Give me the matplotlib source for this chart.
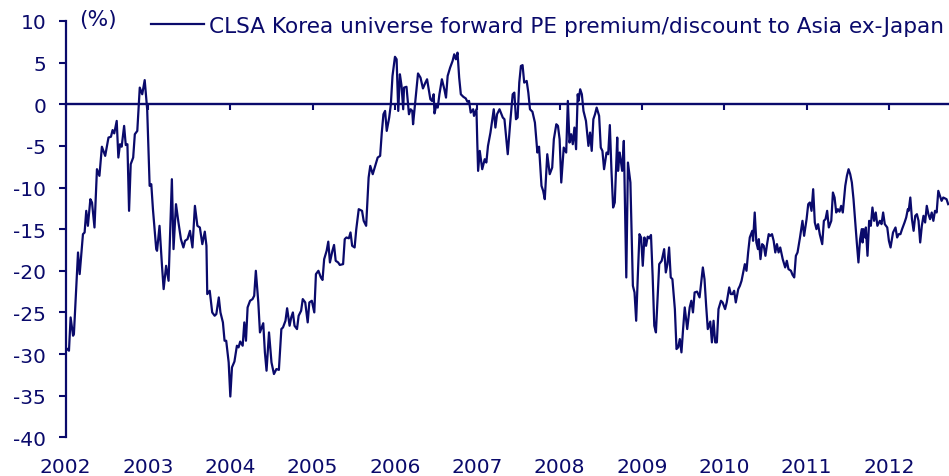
import matplotlib
matplotlib.use("Agg")
import matplotlib.pyplot as plt

# weekly-ish trace of the series (decimal year, % premium/discount)
years = [
    2002.02, 2002.04, 2002.06, 2002.09, 2002.10, 2002.13, 2002.15, 2002.17, 2002.21, 2002.23,
    2002.25, 2002.27, 2002.30, 2002.32, 2002.35, 2002.38, 2002.41, 2002.44, 2002.48, 2002.52,
    2002.55, 2002.57, 2002.59, 2002.62, 2002.64, 2002.66, 2002.68, 2002.71, 2002.73, 2002.75,
    2002.77, 2002.79, 2002.82, 2002.84, 2002.87, 2002.90, 2002.93, 2002.96, 2002.99, 2003.02,
    2003.04, 2003.06, 2003.10, 2003.11, 2003.14, 2003.17, 2003.19, 2003.22, 2003.25, 2003.29,
    2003.31, 2003.34, 2003.37, 2003.40, 2003.43, 2003.45, 2003.48, 2003.51, 2003.54, 2003.57,
    2003.60, 2003.63, 2003.66, 2003.69, 2003.71, 2003.72, 2003.75, 2003.78, 2003.81, 2003.83,
    2003.86, 2003.88, 2003.91, 2003.93, 2003.95, 2003.98, 2004.00, 2004.02, 2004.05, 2004.08,
    2004.10, 2004.12, 2004.15, 2004.17, 2004.19, 2004.21, 2004.24, 2004.27, 2004.29, 2004.31,
    2004.34, 2004.36, 2004.40, 2004.42, 2004.44, 2004.47, 2004.50, 2004.53, 2004.56, 2004.59,
    2004.62, 2004.64, 2004.67, 2004.69, 2004.72, 2004.74, 2004.76, 2004.78, 2004.81, 2004.83,
    2004.86, 2004.88, 2004.91, 2004.94, 2004.96, 2004.99, 2005.02, 2005.04, 2005.07, 2005.10,
    2005.12, 2005.14, 2005.17, 2005.19, 2005.21, 2005.24, 2005.26, 2005.28, 2005.31, 2005.33,
    2005.37, 2005.39, 2005.41, 2005.44, 2005.46, 2005.48, 2005.51, 2005.53, 2005.56, 2005.60,
    2005.62, 2005.65, 2005.68, 2005.70, 2005.73, 2005.76, 2005.79, 2005.82, 2005.84, 2005.86,
    2005.88, 2005.90, 2005.93, 2005.95, 2005.97, 2006.00, 2006.02, 2006.04, 2006.06, 2006.08,
    2006.10, 2006.11, 2006.14, 2006.17, 2006.19, 2006.21, 2006.22, 2006.25, 2006.28, 2006.31,
    2006.34, 2006.37, 2006.39, 2006.43, 2006.45, 2006.47, 2006.48, 2006.50, 2006.52, 2006.54,
    2006.57, 2006.60, 2006.62, 2006.64, 2006.67, 2006.70, 2006.72, 2006.74, 2006.76, 2006.78,
    2006.80, 2006.83, 2006.86, 2006.88, 2006.90, 2006.92, 2006.95, 2006.96, 2006.99, 2007.00,
    2007.01, 2007.03, 2007.06, 2007.09, 2007.11, 2007.13, 2007.16, 2007.20, 2007.22, 2007.24,
    2007.27, 2007.31, 2007.33, 2007.37, 2007.40, 2007.43, 2007.45, 2007.47, 2007.49, 2007.51,
    2007.53, 2007.55, 2007.57, 2007.60, 2007.62, 2007.64, 2007.67, 2007.70, 2007.73, 2007.75,
    2007.78, 2007.80, 2007.82, 2007.85, 2007.88, 2007.91, 2007.93, 2007.96, 2007.98, 2008.00,
    2008.02, 2008.05, 2008.08, 2008.10, 2008.12, 2008.14, 2008.16, 2008.18, 2008.20, 2008.22,
    2008.23, 2008.25, 2008.27, 2008.29, 2008.32, 2008.35, 2008.37, 2008.39, 2008.41, 2008.43,
    2008.45, 2008.48, 2008.50, 2008.52, 2008.54, 2008.57, 2008.59, 2008.61, 2008.63, 2008.65,
    2008.67, 2008.70, 2008.71, 2008.73, 2008.76, 2008.78, 2008.81, 2008.83, 2008.86, 2008.89,
    2008.91, 2008.93, 2008.95, 2008.97, 2008.99, 2009.01, 2009.03, 2009.05, 2009.07, 2009.09,
    2009.11, 2009.13, 2009.15, 2009.17, 2009.19, 2009.21, 2009.24, 2009.27, 2009.29, 2009.31,
    2009.33, 2009.35, 2009.37, 2009.40, 2009.42, 2009.44, 2009.46, 2009.48, 2009.50, 2009.52,
    2009.55, 2009.58, 2009.60, 2009.62, 2009.64, 2009.67, 2009.70, 2009.72, 2009.74, 2009.76,
    2009.78, 2009.80, 2009.83, 2009.85, 2009.87, 2009.89, 2009.91, 2009.93, 2009.96, 2009.98,
    2010.01, 2010.03, 2010.06, 2010.08, 2010.10, 2010.12, 2010.14, 2010.17, 2010.19, 2010.21,
    2010.23, 2010.25, 2010.27, 2010.29, 2010.31, 2010.34, 2010.35, 2010.37, 2010.39, 2010.41,
    2010.42, 2010.44, 2010.46, 2010.48, 2010.50, 2010.52, 2010.54, 2010.56, 2010.58, 2010.60,
    2010.62, 2010.64, 2010.66, 2010.68, 2010.71, 2010.74, 2010.76, 2010.78, 2010.81, 2010.83,
    2010.85, 2010.87, 2010.89, 2010.92, 2010.95, 2010.97, 2011.00, 2011.02, 2011.04, 2011.06,
    2011.08, 2011.10, 2011.12, 2011.14, 2011.16, 2011.19, 2011.21, 2011.23, 2011.25, 2011.27,
    2011.30, 2011.32, 2011.34, 2011.36, 2011.38, 2011.40, 2011.42, 2011.44, 2011.47, 2011.49,
    2011.51, 2011.53, 2011.55, 2011.57, 2011.59, 2011.61, 2011.63, 2011.65, 2011.67, 2011.68,
    2011.69, 2011.71, 2011.72, 2011.74, 2011.76, 2011.78, 2011.80, 2011.82, 2011.84, 2011.86,
    2011.89, 2011.91, 2011.93, 2011.95, 2011.98, 2012.00, 2012.02, 2012.05, 2012.08, 2012.10,
    2012.12, 2012.14, 2012.16, 2012.19, 2012.21, 2012.23, 2012.24, 2012.26, 2012.28, 2012.30,
    2012.32, 2012.34, 2012.36, 2012.38, 2012.40, 2012.42, 2012.44, 2012.46, 2012.48, 2012.50,
    2012.52, 2012.54, 2012.56, 2012.58, 2012.60, 2012.62, 2012.64, 2012.66, 2012.70, 2012.72,
]
premium = [
    -29.4, -29.6, -25.6, -27.8, -27.6, -21.8, -17.8, -20.4, -15.6, -15.4,
    -12.8, -14.6, -11.4, -11.8, -14.8, -7.8, -8.6, -5.1, -6.2, -4.0,
    -3.9, -3.1, -3.5, -2.0, -6.4, -4.8, -5.1, -2.6, -4.9, -4.8,
    -12.8, -7.2, -6.4, -3.6, -3.2, 2.0, 1.2, 2.9, -0.6, -9.8,
    -9.6, -12.6, -17.4, -17.6, -14.6, -19.4, -22.2, -19.4, -21.2, -9.0,
    -17.4, -12.0, -14.2, -16.2, -17.2, -16.4, -16.2, -15.2, -17.2, -12.2,
    -14.6, -14.8, -16.8, -15.3, -17.0, -22.8, -22.4, -25.0, -25.4, -25.2,
    -23.2, -25.0, -26.2, -28.4, -28.4, -31.0, -35.1, -31.6, -30.9, -29.0,
    -29.2, -28.5, -29.0, -26.2, -28.4, -24.4, -23.6, -23.4, -23.0, -20.0,
    -23.8, -27.4, -26.3, -29.8, -32.0, -27.4, -31.0, -32.4, -31.8, -31.9,
    -27.0, -26.8, -26.0, -24.5, -26.6, -25.6, -25.0, -26.6, -27.0, -25.4,
    -24.8, -23.4, -23.8, -26.2, -23.8, -23.6, -25.0, -20.4, -20.0, -20.8,
    -21.1, -18.6, -17.6, -16.5, -19.0, -17.6, -16.9, -18.8, -19.0, -19.3,
    -19.2, -16.2, -16.0, -16.1, -15.4, -17.0, -17.2, -15.0, -12.6, -12.8,
    -14.0, -14.6, -8.8, -7.4, -8.4, -7.4, -6.4, -6.2, -3.4, -1.2,
    -0.8, -3.2, -1.6, 0.0, 3.4, 5.7, 5.4, -0.8, 3.6, 2.2,
    -0.6, 2.0, 2.1, -1.2, -0.6, -0.8, -2.4, 0.6, 3.7, 3.2,
    1.9, 2.6, 3.0, 0.6, 0.4, 1.2, -1.1, -0.2, -0.4, 1.2,
    3.0, 1.8, 0.8, 3.4, 4.4, 5.2, 6.0, 5.4, 6.2, 3.2,
    1.2, 0.9, 0.7, 0.3, 0.4, -1.0, -0.6, -1.4, -0.6, -4.6,
    -8.0, -5.6, -7.8, -6.6, -7.0, -5.0, -3.4, -0.6, -2.8, -1.2,
    -0.6, -1.6, -1.8, -6.0, -2.2, 1.2, 1.4, -1.8, -1.6, 2.6,
    4.6, 4.7, 2.6, 2.8, 1.4, -0.6, -0.9, -2.2, -5.8, -5.1,
    -9.8, -10.4, -11.4, -6.0, -8.4, -7.6, -4.2, -2.4, -2.6, -4.2,
    -9.4, -5.2, -5.8, 0.4, -4.6, -3.6, -4.8, -2.8, -5.4, 1.2,
    0.4, 1.8, 1.2, -0.8, -2.0, -5.0, -3.4, -5.6, -1.8, -1.2,
    -0.4, -1.4, -5.2, -5.6, -7.8, -5.8, -6.0, -2.5, -8.0, -12.4,
    -11.8, -4.0, -8.0, -5.8, -8.0, -4.4, -20.8, -7.0, -9.4, -21.8,
    -22.6, -26.0, -20.6, -15.6, -16.0, -19.4, -16.0, -17.0, -15.9, -16.1,
    -15.7, -20.6, -26.6, -27.4, -23.4, -19.2, -18.8, -17.4, -20.2, -19.2,
    -17.2, -20.8, -21.0, -24.6, -29.4, -29.2, -28.2, -29.8, -27.0, -24.4,
    -27.0, -24.4, -23.6, -25.0, -22.6, -22.5, -23.2, -21.4, -19.6, -21.0,
    -24.2, -27.0, -26.1, -28.6, -26.0, -28.6, -28.6, -24.6, -23.6, -23.8,
    -24.6, -23.8, -22.0, -22.8, -22.8, -22.4, -23.8, -22.2, -21.8, -21.2,
    -20.2, -19.2, -20.0, -17.8, -16.0, -15.2, -16.4, -13.0, -16.6, -17.4,
    -16.2, -18.6, -16.8, -17.0, -18.2, -16.8, -15.6, -15.8, -15.6, -16.4,
    -17.8, -16.8, -17.8, -17.2, -18.6, -19.6, -18.8, -19.8, -20.0, -20.5,
    -20.8, -18.2, -17.8, -16.0, -14.0, -15.8, -13.8, -12.0, -11.8, -12.8,
    -10.2, -14.2, -15.0, -14.4, -15.6, -16.8, -14.0, -13.8, -12.8, -14.8,
    -14.0, -10.6, -11.2, -13.0, -12.6, -12.9, -12.2, -13.0, -9.8, -8.6,
    -7.8, -8.4, -9.4, -11.4, -14.0, -16.6, -19.0, -16.2, -15.0, -16.6,
    -15.0, -16.0, -14.8, -18.2, -14.0, -14.6, -12.4, -14.0, -13.0, -14.6,
    -14.0, -14.4, -13.0, -14.4, -14.8, -16.4, -17.2, -15.4, -14.8, -16.0,
    -15.6, -15.6, -15.0, -14.2, -13.6, -12.6, -12.8, -11.2, -13.8, -15.2,
    -13.4, -13.2, -14.0, -16.6, -14.6, -13.4, -14.2, -12.2, -13.2, -13.8,
    -13.0, -14.0, -12.8, -13.0, -10.4, -11.0, -11.6, -11.2, -11.4, -12.0,
]
year_ticks = list(range(2002, 2013))
y_ticks = [10, 5, 0, -5, -10, -15, -20, -25, -30, -35, -40]

navy = '#0a0a6b'
fs = 14.5
fs_legend = 15.6

fig = plt.figure(figsize=(9.49, 4.77), dpi=100)
ax = fig.add_axes([0.0692, 0.0811, 0.9308, 0.8728])

line, = ax.plot(years, premium, color=navy, lw=1.6, zorder=3,
                label='CLSA Korea universe forward PE premium/discount to Asia ex-Japan')

ax.set_xlim(2002, 2012.73)
ax.set_ylim(-40, 10)

# y axis
ax.spines['top'].set_visible(False)
ax.spines['right'].set_visible(False)
ax.spines['left'].set_color(navy)
ax.spines['left'].set_linewidth(1.6)
ax.set_yticks(y_ticks)
ax.set_yticklabels([str(v) for v in y_ticks])
ax.tick_params(axis='y', direction='out', length=5, width=1.5, color=navy,
               labelcolor=navy, labelsize=fs, pad=9)

# zero line carries the x ticks
ax.spines['bottom'].set_position(('data', 0))
ax.spines['bottom'].set_color(navy)
ax.spines['bottom'].set_linewidth(1.7)
ax.set_xticks(year_ticks)
ax.tick_params(axis='x', direction='out', length=4, width=1.5, color=navy,
               labelbottom=False)

# year labels at the bottom
sec = ax.secondary_xaxis('bottom')
sec.set_xticks(year_ticks)
sec.set_xticklabels([str(y) for y in year_ticks])
sec.spines['bottom'].set_visible(False)
sec.tick_params(length=0, labelcolor=navy, labelsize=fs, pad=14)

fig.text(98 / 949, 1 - 20 / 477, '(%)', color=navy, fontsize=fs_legend,
         ha='center', va='center')

leg = ax.legend(loc='center right', bbox_to_anchor=(944 / 949, 1 - 27 / 477),
                bbox_transform=fig.transFigure, frameon=False, fontsize=fs_legend,
                handlelength=2.42, handletextpad=0.25, borderpad=0, borderaxespad=0)
for t in leg.get_texts():
    t.set_color(navy)

fig.savefig('out.png', dpi=100)
